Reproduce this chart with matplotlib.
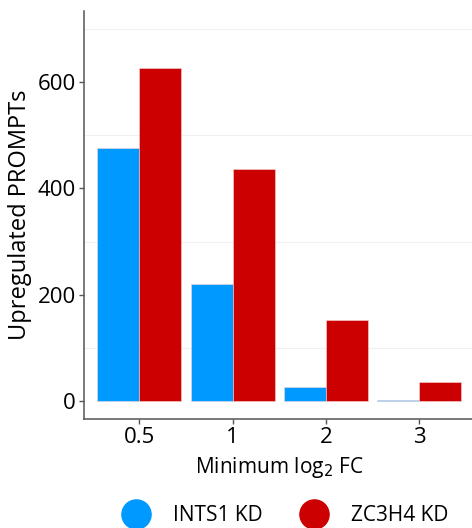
import matplotlib.pyplot as plt
from matplotlib.lines import Line2D
import numpy as np

plt.rcParams['font.family'] = ['Open Sans', 'DejaVu Sans']

thresholds = ['0.5', '1', '2', '3']
ints1_kd = [477, 220, 25, 2]
zc3h4_kd = [627, 437, 153, 35]
series_names = ['INTS1 KD', 'ZC3H4 KD']
colors = ['#0099FF', '#CC0000']

fig = plt.figure(figsize=(4.72, 5.28), dpi=100)
ax = fig.add_axes([83.5 / 472, (528 - 419.3) / 528, 391.5 / 472, 408.6 / 528])

x = np.arange(len(thresholds))
w = 0.45
ax.bar(x - w / 2, ints1_kd, w, color=colors[0], edgecolor='#f3d6d6', linewidth=0.4, zorder=2)
ax.bar(x + w / 2, zc3h4_kd, w, color=colors[1], edgecolor='#f3d6d6', linewidth=0.4, zorder=2)

ax.set_xlim(-0.6, 3.6)
ax.set_ylim(-35, 735)
ax.set_yticks([0, 200, 400, 600])
ax.set_xticks(x)
ax.set_xticklabels(thresholds)
for v in [100, 300, 500, 700]:
    ax.axhline(v, color='#f0f0f0', linewidth=0.8, zorder=0)

for side in ['top', 'right']:
    ax.spines[side].set_visible(False)
for side in ['left', 'bottom']:
    ax.spines[side].set_color('#555555')
    ax.spines[side].set_linewidth(1.1)
ax.tick_params(axis='both', colors='#555555', length=3.5, width=1, labelsize=16,
               labelcolor='black', pad=2)

ax.set_ylabel('Upregulated PROMPTs', fontsize=17, labelpad=4)
ax.set_xlabel('Minimum log$_2$ FC', fontsize=15, labelpad=5)

handles = [Line2D([], [], marker='o', linestyle='', markersize=21, color=c) for c in colors]
fig.legend(handles, series_names, loc='center', bbox_to_anchor=(0.597, 0.024),
           ncol=2, frameon=False, fontsize=15, handletextpad=0.8, columnspacing=1.45)

fig.savefig('out.png', dpi=100)
